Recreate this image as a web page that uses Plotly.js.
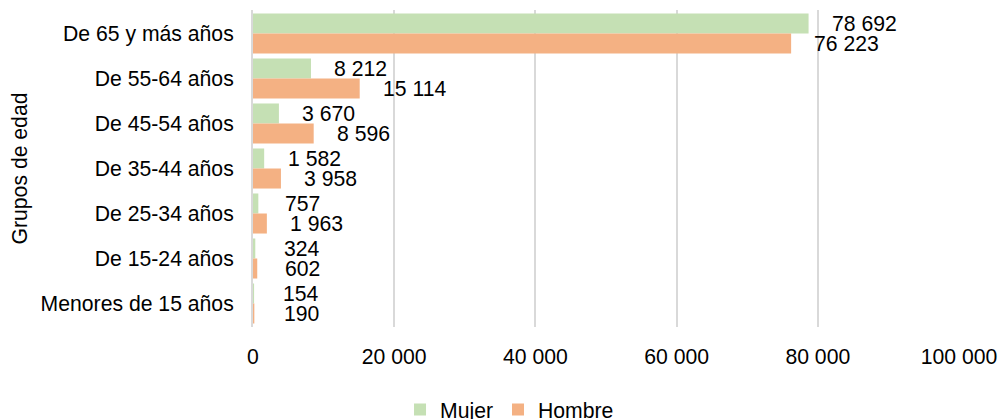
<!DOCTYPE html>
<html>
<head>
<meta charset="utf-8">
<script src="https://cdn.plot.ly/plotly-3.0.1.min.js"></script>
<style>html,body{margin:0;padding:0;background:#fff;}#chart{width:1003px;height:419px;}</style>
</head>
<body>
<div id="chart"></div>
<script>
const categories = ["De 65 y más años","De 55-64 años","De 45-54 años","De 35-44 años","De 25-34 años","De 15-24 años","Menores de 15 años"];
const mujer = [78692, 8212, 3670, 1582, 757, 324, 154];
const hombre = [76223, 15114, 8596, 3958, 1963, 602, 190];
const xTicks = [0, 20000, 40000, 60000, 80000, 100000];

function fmt(v){ return String(v).replace(/\B(?=(\d{3})+(?!\d))/g, " "); }

const FONT = "Liberation Sans, Arial, sans-serif";
const FS = 21.2;
const traces = [
  {type:"bar", orientation:"h", name:"Mujer", y:categories, x:mujer,
   marker:{color:"#c5e0b4"}, hoverinfo:"x+y"},
  {type:"bar", orientation:"h", name:"Hombre", y:categories, x:hombre,
   marker:{color:"#f4b183"}, hoverinfo:"x+y"}
];

const annotations = [];
categories.forEach((c,i)=>{
  annotations.push({x:mujer[i], y:c, xref:"x", yref:"y", text:fmt(mujer[i]), showarrow:false,
    xanchor:"left", yanchor:"middle", xshift:Math.max(21, 28 - mujer[i]/250), yshift:10,
    font:{family:FONT, size:FS, color:"#000"}});
  annotations.push({x:hombre[i], y:c, xref:"x", yref:"y", text:fmt(hombre[i]), showarrow:false,
    xanchor:"left", yanchor:"middle", xshift:Math.max(21, 28 - hombre[i]/250), yshift:-10,
    font:{family:FONT, size:FS, color:"#000"}});
});

const layout = {
  width:1003, height:419,
  margin:{l:253, r:44, t:10, b:92},
  paper_bgcolor:"#fff", plot_bgcolor:"#fff",
  font:{family:FONT, size:FS, color:"#000"},
  barmode:"group", bargap:0.11, bargroupgap:0,
  showlegend:true,
  legend:{orientation:"h", xref:"container", yref:"container", x:0.508, xanchor:"center",
    y:0.022, yanchor:"middle", font:{family:FONT, size:FS, color:"#000"}, itemwidth:30, tracegroupgap:0},
  xaxis:{range:[0,100000], tickvals:xTicks, ticktext:xTicks.map(fmt), showgrid:true,
    gridcolor:"#d9d9d9", gridwidth:2, zeroline:false, showline:false, ticks:"",
    ticklabelstandoff:15, tickfont:{family:FONT, size:FS, color:"#000"}, fixedrange:true},
  yaxis:{type:"category", autorange:"reversed", showgrid:false, zeroline:false, showline:true,
    linecolor:"#d9d9d9", linewidth:2, ticks:"", ticklabelstandoff:13,
    tickfont:{family:FONT, size:FS, color:"#000"},
    title:{text:"Grupos de edad", standoff:7, font:{family:FONT, size:FS, color:"#000"}}},
  annotations:annotations
};

Plotly.newPlot("chart", traces, layout, {displayModeBar:false, staticPlot:true});
</script>
</body>
</html>
